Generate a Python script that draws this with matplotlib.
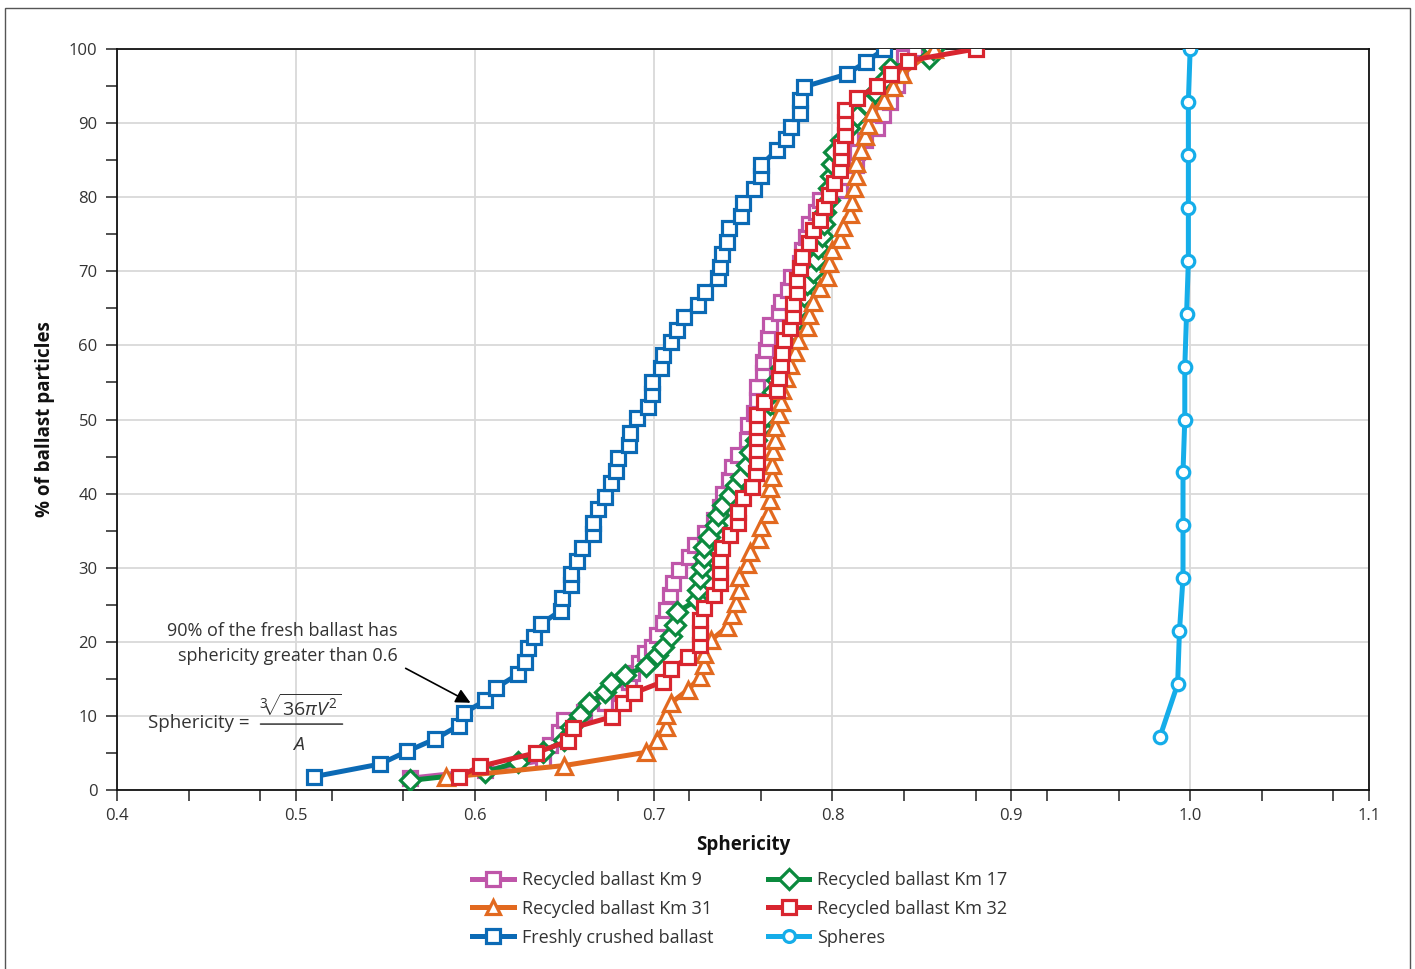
"""
Cumulative sphericity distributions of recycled, fresh ballast and spheres.
"""

import matplotlib

matplotlib.use("Agg")
import matplotlib.pyplot as plt
import numpy as np
from matplotlib.lines import Line2D
from matplotlib.patches import Rectangle
from matplotlib.ticker import FixedLocator, MultipleLocator

plt.rcParams["font.family"] = ["Open Sans", "DejaVu Sans"]
plt.rcParams["mathtext.fontset"] = "custom"
plt.rcParams["mathtext.rm"] = "Open Sans"
plt.rcParams["mathtext.it"] = "Open Sans:italic"
plt.rcParams["mathtext.bf"] = "Open Sans:bold"

TEXT = "#333333"

# ---- data ----
km9_x = [0.564, 0.606, 0.638, 0.642, 0.647, 0.650, 0.661, 0.673, 0.681, 0.686,
         0.688, 0.692, 0.695, 0.699, 0.702, 0.705, 0.707, 0.709, 0.711, 0.714,
         0.720, 0.723, 0.729, 0.734, 0.737, 0.739, 0.742, 0.744, 0.747, 0.752,
         0.753, 0.756, 0.758, 0.758, 0.761, 0.761, 0.763, 0.764, 0.765, 0.770,
         0.771, 0.775, 0.777, 0.782, 0.783, 0.785, 0.787, 0.791, 0.793, 0.804,
         0.808, 0.813, 0.814, 0.818, 0.825, 0.828, 0.832, 0.836, 0.838, 0.840,
         0.846]
km9_y = [1.6, 2.7, 4.0, 6.1, 7.8, 9.4, 10.5, 11.7, 13.1, 14.6,
         15.8, 17.1, 18.5, 19.3, 20.9, 22.5, 24.3, 26.3, 27.9, 29.7,
         31.4, 33.1, 34.7, 36.4, 38.2, 39.9, 41.8, 43.6, 45.2, 47.2,
         49.3, 50.9, 52.6, 54.4, 56.3, 57.8, 59.4, 61.0, 62.8, 64.4,
         65.9, 67.5, 69.2, 71.1, 72.9, 74.6, 76.4, 78.0, 79.6, 81.0,
         82.7, 84.3, 86.1, 87.7, 89.3, 91.1, 92.8, 95.1, 97.2, 98.9,
         100.0]

km17_x = [0.564, 0.606, 0.624, 0.638, 0.650, 0.654, 0.659, 0.664, 0.673, 0.676,
          0.684, 0.696, 0.702, 0.705, 0.710, 0.712, 0.713, 0.724, 0.725, 0.726,
          0.727, 0.728, 0.728, 0.731, 0.735, 0.736, 0.739, 0.743, 0.746, 0.749,
          0.752, 0.754, 0.757, 0.760, 0.763, 0.765, 0.767, 0.769, 0.771, 0.774,
          0.776, 0.779, 0.780, 0.782, 0.784, 0.786, 0.789, 0.791, 0.792, 0.794,
          0.795, 0.796, 0.798, 0.798, 0.799, 0.800, 0.801, 0.805, 0.809, 0.814,
          0.819, 0.824, 0.829, 0.832, 0.854, 0.856]
km17_y = [1.3, 2.4, 3.8, 5.1, 6.7, 8.5, 10.1, 11.7, 13.2, 14.4,
          15.5, 16.7, 18.2, 19.3, 20.8, 22.3, 24.0, 25.6, 27.0, 28.6,
          30.1, 31.4, 32.8, 34.1, 35.8, 37.1, 38.5, 39.8, 41.2, 42.2,
          43.9, 45.6, 47.2, 48.9, 50.5, 52.1, 53.7, 55.3, 56.9, 58.6,
          60.2, 61.8, 63.4, 65.0, 66.7, 68.3, 69.9, 71.5, 73.1, 74.8,
          76.4, 78.0, 79.6, 81.2, 82.9, 84.5, 86.1, 87.7, 89.3, 91.0,
          92.6, 94.2, 95.8, 97.4, 98.8, 100.0]

km31_x = [0.584, 0.650, 0.696, 0.702, 0.707, 0.707, 0.710, 0.719, 0.726, 0.728,
          0.728, 0.732, 0.741, 0.744, 0.746, 0.748, 0.748, 0.752, 0.754, 0.759,
          0.760, 0.764, 0.765, 0.765, 0.766, 0.766, 0.767, 0.768, 0.768, 0.770,
          0.771, 0.772, 0.774, 0.776, 0.779, 0.781, 0.786, 0.787, 0.789, 0.793,
          0.797, 0.798, 0.800, 0.804, 0.806, 0.810, 0.811, 0.812, 0.813, 0.813,
          0.816, 0.818, 0.820, 0.822, 0.829, 0.834, 0.839, 0.857]
km31_y = [1.7, 3.3, 5.1, 6.7, 8.5, 10.1, 11.8, 13.5, 15.2, 16.9,
          18.4, 20.2, 22.0, 23.6, 25.3, 27.0, 28.7, 30.5, 32.1, 33.9,
          35.5, 37.3, 39.1, 40.7, 42.3, 43.9, 45.7, 47.2, 49.0, 50.8,
          52.4, 54.0, 55.6, 57.4, 59.1, 60.7, 62.5, 64.1, 65.9, 67.7,
          69.3, 71.1, 72.9, 74.4, 76.0, 77.8, 79.4, 81.2, 82.8, 84.6,
          86.4, 88.2, 89.7, 91.5, 93.1, 94.9, 96.6, 100.0]

km32_x = [0.591, 0.603, 0.634, 0.652, 0.655, 0.677, 0.683, 0.689, 0.705, 0.710,
          0.719, 0.726, 0.726, 0.726, 0.728, 0.734, 0.737, 0.737, 0.737, 0.738,
          0.743, 0.747, 0.747, 0.750, 0.755, 0.757, 0.758, 0.758, 0.758, 0.758,
          0.758, 0.762, 0.769, 0.770, 0.771, 0.772, 0.773, 0.776, 0.778, 0.778,
          0.780, 0.780, 0.782, 0.783, 0.787, 0.789, 0.793, 0.795, 0.798, 0.801,
          0.804, 0.805, 0.805, 0.807, 0.807, 0.807, 0.814, 0.825, 0.833, 0.842,
          0.880]
km32_y = [1.8, 3.2, 5.0, 6.6, 8.4, 9.9, 11.7, 13.1, 14.6, 16.3,
          17.9, 19.6, 21.2, 22.9, 24.6, 26.3, 27.9, 29.4, 31.0, 32.7,
          34.4, 36.0, 37.5, 39.4, 40.9, 42.8, 44.3, 45.9, 47.5, 49.0,
          50.6, 52.4, 54.0, 55.6, 57.4, 59.0, 60.7, 62.3, 64.0, 65.6,
          67.2, 68.8, 70.4, 71.9, 73.8, 75.6, 76.9, 78.7, 80.3, 81.9,
          83.7, 85.3, 86.8, 88.4, 90.1, 91.8, 93.4, 95.0, 96.6, 98.4,
          100.0]

fresh_x = [0.510, 0.547, 0.562, 0.578, 0.591, 0.594, 0.606, 0.612, 0.624, 0.628,
           0.630, 0.633, 0.637, 0.648, 0.649, 0.654, 0.654, 0.657, 0.660, 0.666,
           0.666, 0.669, 0.673, 0.676, 0.679, 0.680, 0.686, 0.687, 0.691, 0.697,
           0.699, 0.699, 0.704, 0.705, 0.710, 0.713, 0.717, 0.725, 0.729, 0.736,
           0.737, 0.738, 0.741, 0.742, 0.749, 0.750, 0.756, 0.760, 0.760, 0.769,
           0.774, 0.777, 0.782, 0.782, 0.784, 0.808, 0.819, 0.829]
fresh_y = [1.8, 3.5, 5.2, 6.9, 8.7, 10.4, 12.1, 13.8, 15.6, 17.3,
           19.1, 20.7, 22.4, 24.2, 25.9, 27.7, 29.2, 30.9, 32.7, 34.5,
           36.1, 37.9, 39.6, 41.4, 43.0, 44.8, 46.6, 48.2, 50.2, 51.7,
           53.5, 55.1, 56.9, 58.7, 60.5, 62.1, 63.9, 65.5, 67.2, 69.1,
           70.6, 72.4, 74.0, 75.8, 77.5, 79.2, 81.1, 82.8, 84.3, 86.4,
           87.9, 89.5, 91.3, 93.1, 94.9, 96.6, 98.3, 100.0]

spheres_x = [0.983, 0.993, 0.994, 0.996, 0.996, 0.996, 0.997, 0.997, 0.998, 0.999,
             0.999, 0.999, 0.999, 1.000]
spheres_y = [7.1, 14.3, 21.4, 28.6, 35.7, 42.9, 50.0, 57.1, 64.3, 71.4,
             78.6, 85.7, 92.9, 100.0]

# label, x, y, color, marker, markersize
SERIES = [
    ("Recycled ballast Km 9", km9_x, km9_y, "#bf56a9", "s", 10.5),
    ("Recycled ballast Km 17", km17_x, km17_y, "#0b8a3e", "D", 10.5),
    ("Recycled ballast Km 31", km31_x, km31_y, "#e2691f", "^", 11.0),
    ("Recycled ballast Km 32", km32_x, km32_y, "#d8252f", "s", 10.5),
    ("Freshly crushed ballast", fresh_x, fresh_y, "#0b6ab5", "s", 10.5),
    ("Spheres", spheres_x, spheres_y, "#15ade9", "o", 9.0),
]


def main():
    fig = plt.figure(figsize=(14.15, 9.69), dpi=100)
    ax = fig.add_axes([0.0827, 0.1847, 0.8848, 0.7647])

    handles = {}
    for label, xs, ys, color, marker, ms in SERIES:
        ax.plot(xs, ys, color=color, lw=3.6, marker=marker, ms=ms, mfc="white",
                mec=color, mew=2.3, solid_joinstyle="round", zorder=3)
        handles[label] = Line2D([], [], color=color, lw=3.6, marker=marker, ms=ms * 0.95,
                                mfc="white", mec=color, mew=2.3)

    ax.set_xlim(0.4, 1.1)
    ax.set_ylim(0, 100)
    ax.xaxis.set_major_locator(MultipleLocator(0.1))
    ax.xaxis.set_minor_locator(FixedLocator(np.arange(0.4, 1.1001, 0.04)))
    ax.yaxis.set_major_locator(MultipleLocator(10))
    ax.yaxis.set_minor_locator(MultipleLocator(5))
    ax.set_xticklabels([f"{v:.1f}" for v in ax.get_xticks()])
    ax.tick_params(which="both", direction="out", length=8, width=1.2, color="#333333",
                   labelsize=12, labelcolor=TEXT)
    ax.tick_params(axis="x", pad=5)
    ax.tick_params(axis="y", pad=6)
    ax.grid(which="major", color="#d9d9d9", lw=1.3, zorder=0)
    ax.set_axisbelow(True)
    for side in ("left", "right", "top", "bottom"):
        ax.spines[side].set_color("#111111")
        ax.spines[side].set_linewidth(1.3)

    ax.set_xlabel("Sphericity", fontsize=13.5, fontweight="bold", color="#111111", labelpad=8)
    ax.set_ylabel("% of ballast particles", fontsize=13.5, fontweight="bold", color="#111111",
                  labelpad=10)

    ax.text(0.557, 19.8, "90% of the fresh ballast has\nsphericity greater than 0.6",
            ha="right", va="center", multialignment="right", fontsize=13, color=TEXT,
            linespacing=1.5)
    ax.annotate("", xy=(0.599, 11.6), xytext=(0.560, 16.6),
                arrowprops=dict(arrowstyle="-|>", color="black", lw=1.2, mutation_scale=22))

    # sphericity formula, built as a stacked fraction
    ax.text(0.4173, 9.0, r"Sphericity =", ha="left", va="center", fontsize=13.5, color=TEXT)
    ax.text(0.5025, 11.3, r"$^{3}\!\!\sqrt{36\pi V^{2}}$", ha="center", va="center",
            fontsize=14, color=TEXT)
    ax.annotate("", xy=(0.5261, 8.9), xytext=(0.4802, 8.9),
                arrowprops=dict(arrowstyle="-", color=TEXT, lw=1.1,
                                shrinkA=0, shrinkB=0))
    ax.text(0.5017, 6.1, r"$A$", ha="center", va="center", fontsize=14, color=TEXT)

    order = ["Recycled ballast Km 9", "Recycled ballast Km 31", "Freshly crushed ballast",
             "Recycled ballast Km 17", "Recycled ballast Km 32", "Spheres"]
    fig.legend([handles[k] for k in order], order, ncol=2, loc="upper center",
               bbox_to_anchor=(0.523, 0.118), frameon=False, fontsize=13,
               handlelength=2.3, handletextpad=0.45, columnspacing=3.0,
               labelspacing=0.6, labelcolor=TEXT)

    # thin frame round the whole figure
    fig.patches.append(Rectangle((5 / 1415, -0.01), 1405 / 1415, 1.01 - 8 / 969,
                                 transform=fig.transFigure, fill=False,
                                 edgecolor="#555555", lw=1.0))

    fig.savefig("out.png", dpi=100)


if __name__ == "__main__":
    main()
